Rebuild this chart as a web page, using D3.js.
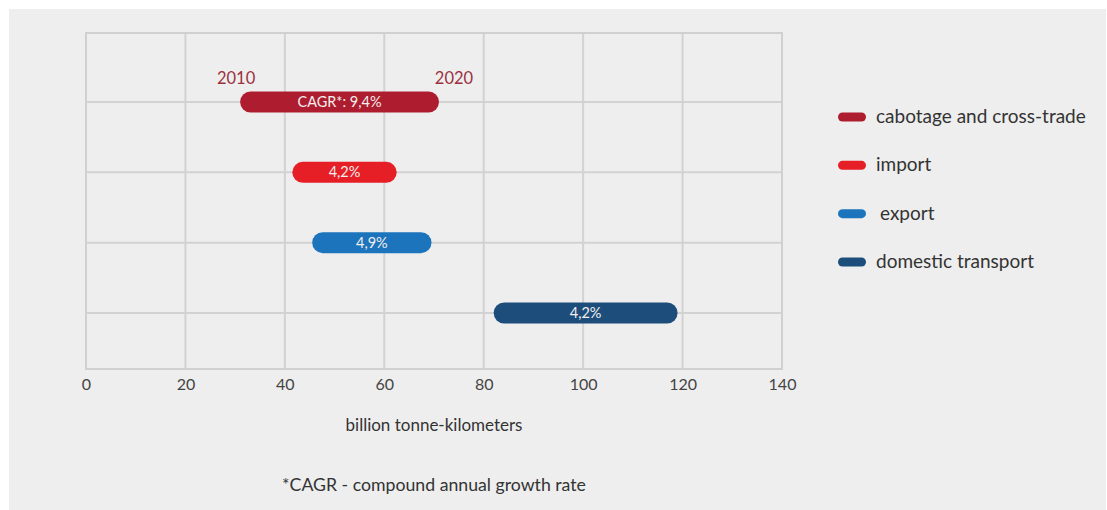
<!DOCTYPE html>
<html>
<head>
<meta charset="utf-8">
<script src="https://cdn.jsdelivr.net/npm/d3@7"></script>
<style>
  html, body { margin: 0; padding: 0; background: #ffffff; }
  svg { display: block; }
  text { font-family: Lato, "Open Sans", sans-serif; }
</style>
</head>
<body>
<svg id="chart" width="1107" height="510"></svg>
<script>
// Freight transport segments: volume in 2010 and 2020 (billion tonne-km)
const categories = ["cabotage and cross-trade", "import", "export", "domestic transport"];
const values2010 = [31, 41.5, 45.5, 82];
const values2020 = [71, 62.5, 69.5, 119];
const barLabels = ["CAGR*: 9,4%", "4,2%", "4,9%", "4,2%"];
const colors = ["#ae1c2f", "#e61e26", "#1b74bc", "#1d4e7b"];
const xTicks = [0, 20, 40, 60, 80, 100, 120, 140];
const yearLabels = ["2010", "2020"];

const svg = d3.select("#chart");

// light panel behind everything
svg.append("rect")
  .attr("x", 9).attr("y", 9)
  .attr("width", 1097).attr("height", 501)
  .attr("fill", "#eeeeee");

const plot = { left: 86, right: 782, top: 33, bottom: 369 };

const x = d3.scaleLinear().domain([0, 140]).range([plot.left, plot.right]);
const y = d3.scalePoint().domain(categories).range([102, 313]);

const g = svg.append("g");

// vertical grid lines
g.selectAll("line.vgrid")
  .data(xTicks)
  .join("line")
  .attr("class", "vgrid")
  .attr("x1", d => x(d)).attr("x2", d => x(d))
  .attr("y1", plot.top).attr("y2", plot.bottom)
  .attr("stroke", "#d2d2d2")
  .attr("stroke-width", 2);

// horizontal grid lines through each category
g.selectAll("line.hgrid")
  .data(categories)
  .join("line")
  .attr("class", "hgrid")
  .attr("x1", plot.left).attr("x2", plot.right)
  .attr("y1", d => y(d)).attr("y2", d => y(d))
  .attr("stroke", "#d2d2d2")
  .attr("stroke-width", 2);

// frame
g.append("rect")
  .attr("x", plot.left).attr("y", plot.top)
  .attr("width", plot.right - plot.left)
  .attr("height", plot.bottom - plot.top)
  .attr("fill", "none")
  .attr("stroke", "#d0d0d0")
  .attr("stroke-width", 2);

// x axis tick labels
const xAxis = d3.axisBottom(x).tickValues(xTicks).tickSize(0).tickPadding(10);
const ax = svg.append("g")
  .attr("transform", `translate(0,${plot.bottom})`)
  .call(xAxis);
ax.select(".domain").remove();
ax.selectAll("text")
  .attr("font-size", 16)
  .attr("fill", "#444")
  .style("font-family", "Lato, 'Open Sans', sans-serif");

// axis title and footnote
svg.append("text")
  .attr("x", (plot.left + plot.right) / 2)
  .attr("y", 431)
  .attr("text-anchor", "middle")
  .attr("font-size", 17)
  .attr("fill", "#333")
  .text("billion tonne-kilometers");

svg.append("text")
  .attr("x", (plot.left + plot.right) / 2)
  .attr("y", 491)
  .attr("text-anchor", "middle")
  .attr("font-size", 17.7)
  .attr("fill", "#333")
  .text("*CAGR - compound annual growth rate");

// range bars from 2010 to 2020
const barH = 21;
const rows = categories.map((c, i) => ({
  cat: c, start: values2010[i], end: values2020[i], label: barLabels[i], color: colors[i]
}));

const bars = svg.append("g");
bars.selectAll("rect")
  .data(rows)
  .join("rect")
  .attr("x", d => x(d.start))
  .attr("y", d => y(d.cat) - barH / 2)
  .attr("width", d => x(d.end) - x(d.start))
  .attr("height", barH)
  .attr("rx", barH / 2)
  .attr("fill", d => d.color);

bars.selectAll("text")
  .data(rows)
  .join("text")
  .attr("x", d => (x(d.start) + x(d.end)) / 2)
  .attr("y", d => y(d.cat) + 5)
  .attr("text-anchor", "middle")
  .attr("font-size", 14.5)
  .attr("fill", "#f4eeee")
  .text(d => d.label);

// year markers above the first bar
const first = rows[0];
svg.append("text")
  .attr("x", x(first.start) - 4)
  .attr("y", y(first.cat) - 18)
  .attr("text-anchor", "middle")
  .attr("font-size", 16.5)
  .attr("fill", "#9c3040")
  .text(yearLabels[0]);
svg.append("text")
  .attr("x", x(first.end) + 15)
  .attr("y", y(first.cat) - 18)
  .attr("text-anchor", "middle")
  .attr("font-size", 16.5)
  .attr("fill", "#9c3040")
  .text(yearLabels[1]);

// legend
const legendY = d3.scalePoint().domain(categories).range([117, 262]);
const leg = svg.append("g");
leg.selectAll("rect")
  .data(rows)
  .join("rect")
  .attr("x", 838)
  .attr("y", d => legendY(d.cat) - 4.5)
  .attr("width", 28)
  .attr("height", 9)
  .attr("rx", 4.5)
  .attr("fill", d => d.color);
leg.selectAll("text")
  .data(rows)
  .join("text")
  .attr("x", (d, i) => i === 2 ? 880 : 876)
  .attr("y", d => legendY(d.cat) + 6)
  .attr("font-size", 19)
  .attr("fill", "#333")
  .text(d => d.cat);
</script>
</body>
</html>
